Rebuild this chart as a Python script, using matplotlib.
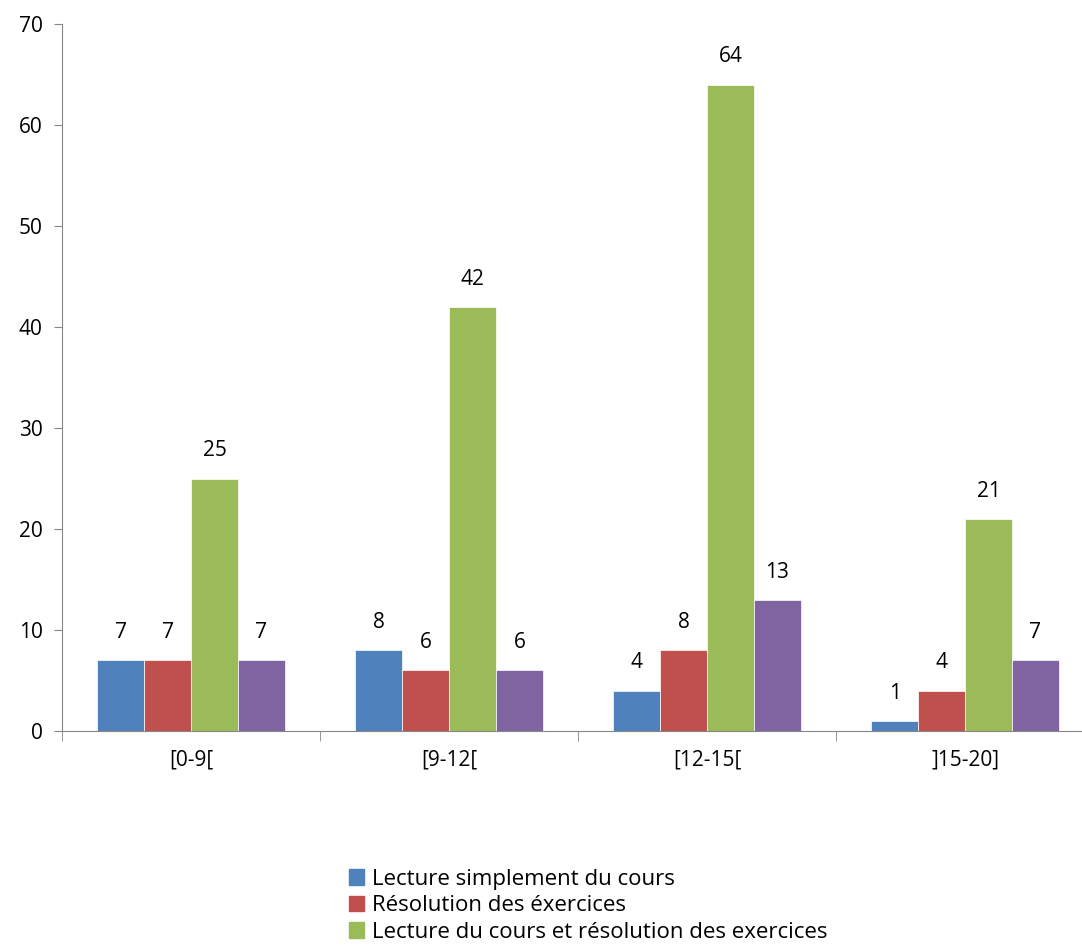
import numpy as np
import matplotlib.pyplot as plt
from matplotlib.patches import Patch

categories = ['[0-9[', '[9-12[', '[12-15[', ']15-20]']
lecture = [7, 8, 4, 1]
resolution = [7, 6, 8, 4]
lecture_resolution = [25, 42, 64, 21]
autre = [7, 6, 13, 7]
legend_labels = ['Lecture simplement du cours', 'Résolution des éxercices',
                 'Lecture du cours et résolution des exercices']

colors = ['#4F81BD', '#C0504D', '#9BBB59', '#8064A2']
series = [lecture, resolution, lecture_resolution, autre]

plt.rcParams['font.family'] = ['Open Sans', 'DejaVu Sans']

fig = plt.figure(figsize=(10.82, 9.49), dpi=100)
ax = fig.add_axes([62 / 1082, 218 / 949, 1032 / 1082, 707 / 949])

x = np.arange(len(categories))
w = 0.182
for i, (vals, c) in enumerate(zip(series, colors)):
    pos = x + (i - 1.5) * w
    ax.bar(pos, vals, width=w, color=c, edgecolor='white', linewidth=0.5)
    for p, v in zip(pos, vals):
        ax.text(p, v + 1.7, str(v), ha='center', va='bottom', fontsize=15)

ax.set_xlim(-0.5, len(categories) - 0.5)
ax.set_ylim(0, 70)
ax.set_yticks(range(0, 71, 10))
ax.set_xticks(x)
ax.set_xticklabels(categories, fontsize=15)
ax.set_xticks(np.arange(-0.5, len(categories), 1), minor=True)
ax.tick_params(axis='x', which='major', length=0, pad=13)
ax.tick_params(axis='x', which='minor', length=7, color='#868686')
ax.tick_params(axis='y', labelsize=15, length=6, color='#868686', pad=8)
for s in ['top', 'right']:
    ax.spines[s].set_visible(False)
for s in ['left', 'bottom']:
    ax.spines[s].set_color('#868686')

handles = [Patch(color=c) for c in colors[:3]]
fig.legend(handles, legend_labels, loc='upper left', bbox_to_anchor=(340 / 1082, 1 - 860 / 949),
           frameon=False, fontsize=16, handlelength=0.7, handleheight=0.7,
           handletextpad=0.35, labelspacing=0.25, borderaxespad=0)

fig.savefig('out.png', dpi=100)
